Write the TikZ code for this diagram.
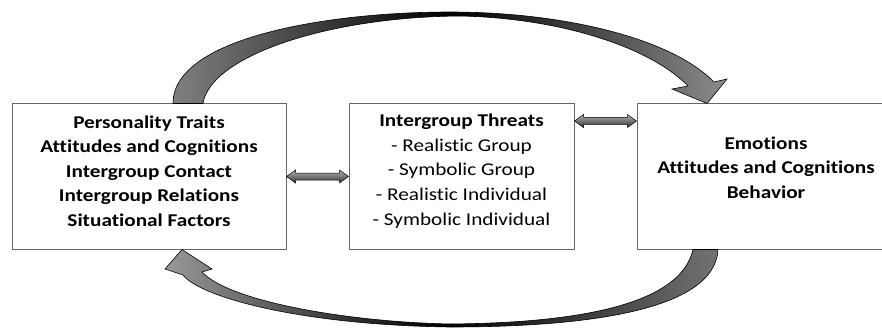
\documentclass[tikz,border=0pt]{standalone}
\usepackage{fontspec}
\setmainfont{Carlito}[FakeStretch=1.18, Ligatures=NoCommon]
\usetikzlibrary{calc}
\tikzset{
  factorbox/.style={draw=black!60, line width=1pt, fill=white, minimum height=145},
  factortext/.style={align=center, inner sep=0pt, font=\fontsize{18}{24.6}\selectfont\bfseries},
  twoway/.style={draw=black, line width=0.5pt, top color=black!30, bottom color=black!80},
  cyclearrow/.style={draw=black, line width=0.6pt, left color=black!50,
    right color=black!45, middle color=black}
}
\begin{document}
\begin{tikzpicture}[x=1pt,y=1pt]
  \useasboundingbox (0,0) rectangle (882,327);
  \node[factorbox, minimum width=274] (causes) at (149,150.5) {};
  \node[factorbox, minimum width=225] (threats) at (461.5,150.5) {};
  \node[factorbox, minimum width=258] (effects) at (766,150.5) {};
  \node[factortext] (causestext) at ([yshift=5.5]causes.center)
    {Personality Traits\\Attitudes and Cognitions\\Intergroup Contact\\Intergroup Relations\\Situational Factors};
  \node[factortext, font=\fontsize{18}{24.6}\selectfont] (threatstext) at ([yshift=5.5]threats.center)
    {\textbf{Intergroup Threats}\\- Realistic Group\\- Symbolic Group\\- Realistic Individual\\- Symbolic Individual};
  \node[factortext] (effectstext) at ([yshift=9]effects.center)
    {Emotions\\Attitudes and Cognitions\\Behavior};
  % double arrows between the boxes
  \coordinate (t2) at ([yshift=55.5]threats.east);
  \coordinate (e2) at ([yshift=55.5]effects.west);
  \path[twoway] (causes.east) -- ++(9,6.5) -- ++(0,-3) -- ($(threats.west)+(-9,3.5)$) -- ++(0,3)
    -- (threats.west) -- ++(-9,-6.5) -- ++(0,3) -- ($(causes.east)+(9,-3.5)$) -- ++(0,-3) -- cycle;
  \path[twoway] (t2) -- ++(9,6.5) -- ++(0,-3) -- ($(e2)+(-9,3.5)$) -- ++(0,3)
    -- (e2) -- ++(-9,-6.5) -- ++(0,3) -- ($(t2)+(9,-3.5)$) -- ++(0,-3) -- cycle;
  % curved arrow over the top
  \path[cyclearrow] ([xshift=24]causes.north) .. controls (173,290) and (330,315) .. (450,315)
    .. controls (560,315) and (670,290) .. (714,245) -- (727,248) -- ([xshift=-59]effects.north)
    -- (672,238) -- (688,241) .. controls (650,280) and (560,309) .. (460,311)
    .. controls (325,310) and (210,270) .. ([xshift=54]causes.north) -- cycle;
  % curved arrow underneath
  \path[cyclearrow, left color=black!40, right color=black!55, middle color=black]
    ([xshift=-73]effects.south) .. controls (680,20) and (570,4) .. (450,3)
    .. controls (350,5) and (230,25) .. (202,55) -- (212,58) -- ([xshift=33]causes.south)
    -- (165,58) -- (183,52) .. controls (200,30) and (300,2) .. (450,0)
    .. controls (580,0) and (715,15) .. ([xshift=-48]effects.south) -- cycle;
\end{tikzpicture}
\end{document}
